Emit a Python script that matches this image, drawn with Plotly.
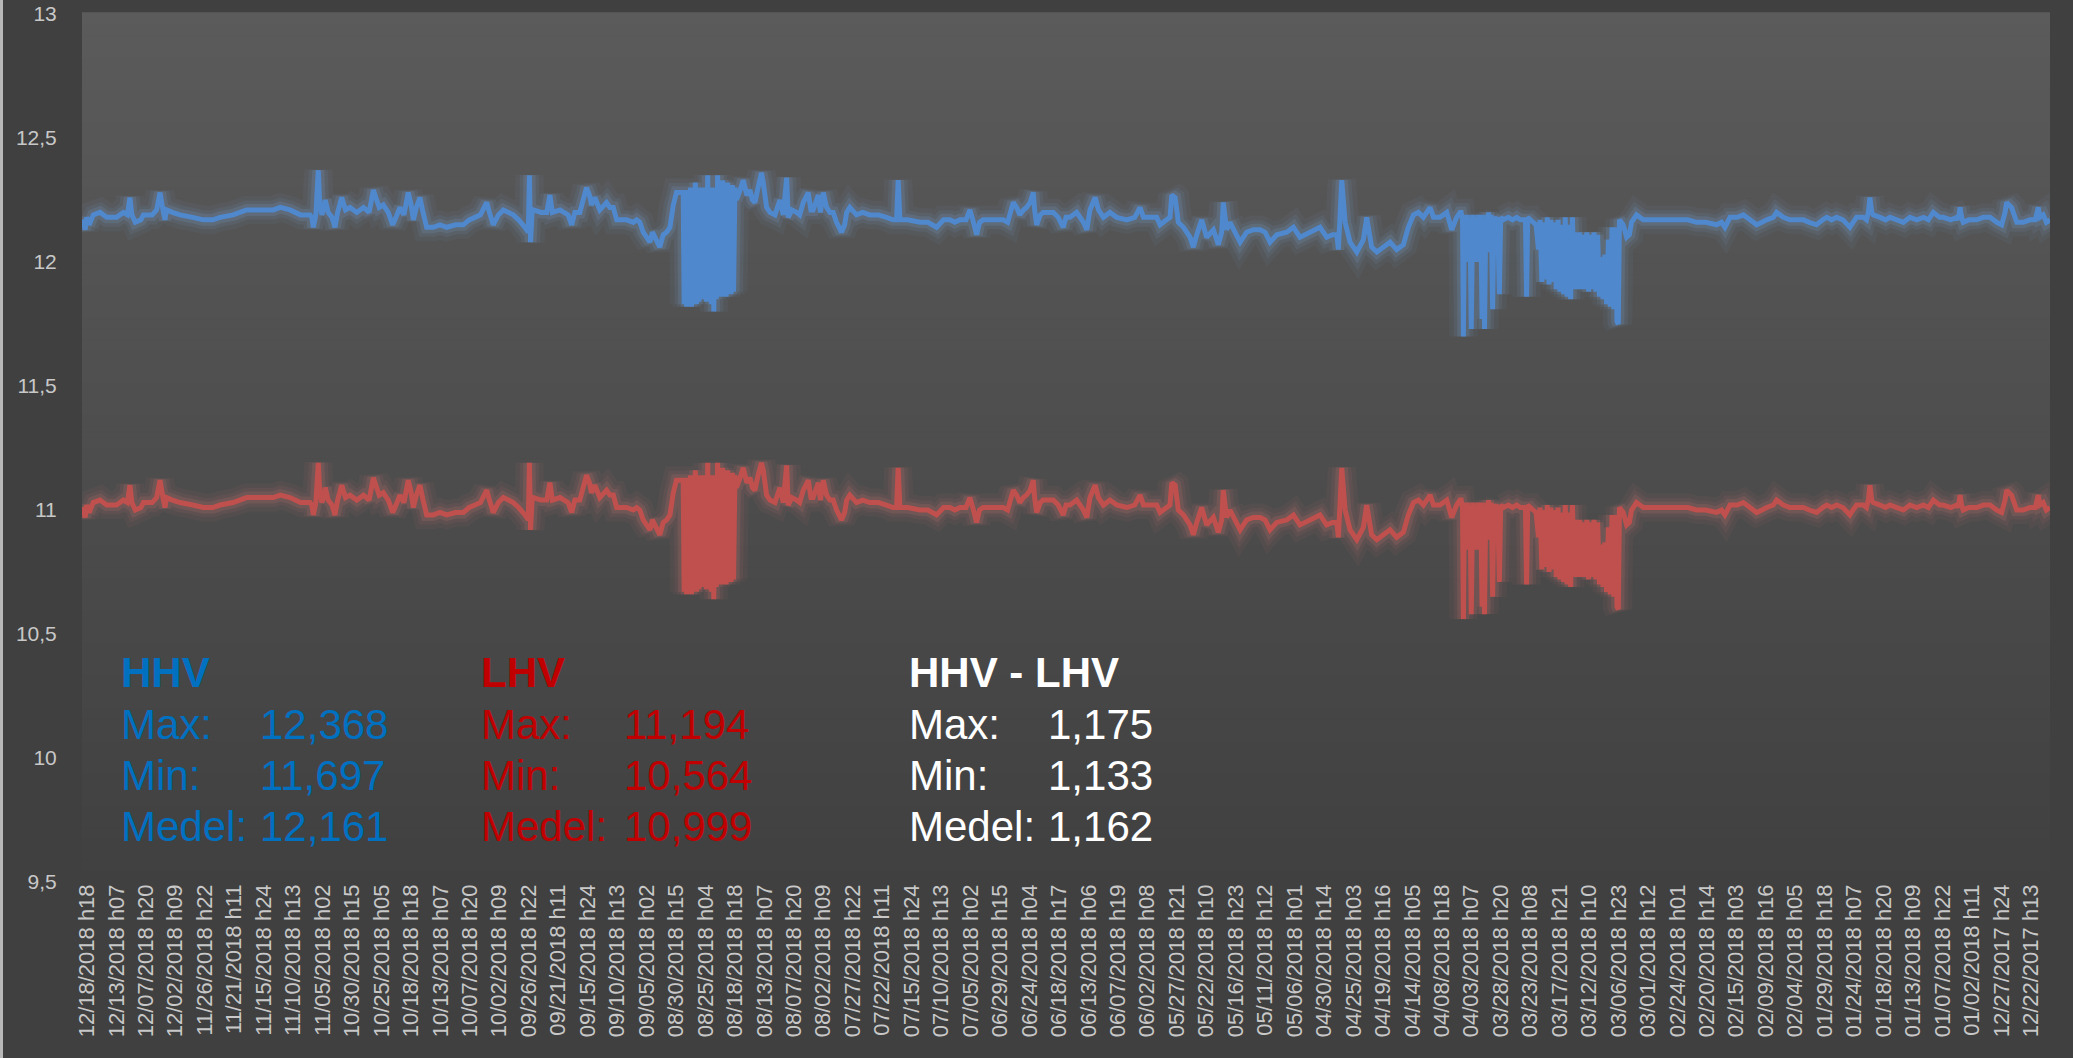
import plotly.graph_objects as go

# ---------------- DATA ----------------
# x = hours counted back from the first label (12/18/2018 h18); axis labels every 131 hours
tick_labels = [
    "12/18/2018 h18", "12/13/2018 h07", "12/07/2018 h20", "12/02/2018 h09", "11/26/2018 h22",
    "11/21/2018 h11", "11/15/2018 h24", "11/10/2018 h13", "11/05/2018 h02", "10/30/2018 h15",
    "10/25/2018 h05", "10/18/2018 h18", "10/13/2018 h07", "10/07/2018 h20", "10/02/2018 h09",
    "09/26/2018 h22", "09/21/2018 h11", "09/15/2018 h24", "09/10/2018 h13", "09/05/2018 h02",
    "08/30/2018 h15", "08/25/2018 h04", "08/18/2018 h18", "08/13/2018 h07", "08/07/2018 h20",
    "08/02/2018 h09", "07/27/2018 h22", "07/22/2018 h11", "07/15/2018 h24", "07/10/2018 h13",
    "07/05/2018 h02", "06/29/2018 h15", "06/24/2018 h04", "06/18/2018 h17", "06/13/2018 h06",
    "06/07/2018 h19", "06/02/2018 h08", "05/27/2018 h21", "05/22/2018 h10", "05/16/2018 h23",
    "05/11/2018 h12", "05/06/2018 h01", "04/30/2018 h14", "04/25/2018 h03", "04/19/2018 h16",
    "04/14/2018 h05", "04/08/2018 h18", "04/03/2018 h07", "03/28/2018 h20", "03/23/2018 h08",
    "03/17/2018 h21", "03/12/2018 h10", "03/06/2018 h23", "03/01/2018 h12", "02/24/2018 h01",
    "02/20/2018 h14", "02/15/2018 h03", "02/09/2018 h16", "02/04/2018 h05", "01/29/2018 h18",
    "01/24/2018 h07", "01/18/2018 h20", "01/13/2018 h09", "01/07/2018 h22", "01/02/2018 h11",
    "12/27/2017 h24", "12/22/2017 h13",
]
label_step_hours = 131
hour_range = [-22, 8731]

hours_a = [-22, -16, -8, -1, 10, 28, 58, 88, 132, 162, 180, 191, 200, 215, 240, 251, 290, 310, 325, 340,
           347, 354, 380, 414, 470, 518, 560, 592, 650, 710, 780, 829, 860, 903, 950, 992, 1000, 1007, 1018, 1029,
           1035, 1045, 1051, 1060, 1073, 1090, 1103, 1115, 1133, 1150, 1170, 1200, 1230, 1255, 1274, 1285, 1300, 1318, 1340, 1360,
           1370, 1392, 1410, 1429, 1440, 1452, 1465, 1481, 1495, 1511, 1540, 1570, 1600, 1640, 1674, 1700, 1726, 1750, 1778, 1790,
           1807, 1830, 1852, 1875, 1896, 1920, 1948, 1963, 1968, 1973, 1980, 1985, 2020, 2045, 2059, 2070, 2104, 2140, 2156, 2170]
hhv_a = [12.17, 12.16, 12.13, 12.18, 12.15, 12.19, 12.20, 12.18, 12.18, 12.20, 12.19, 12.26, 12.19, 12.16, 12.17, 12.19, 12.19, 12.21, 12.28, 12.20,
         12.17, 12.21, 12.20, 12.19, 12.18, 12.17, 12.17, 12.18, 12.19, 12.21, 12.21, 12.21, 12.22, 12.21, 12.19, 12.19, 12.18, 12.14, 12.19, 12.37,
         12.24, 12.19, 12.21, 12.25, 12.20, 12.18, 12.14, 12.20, 12.26, 12.21, 12.22, 12.20, 12.22, 12.20, 12.29, 12.26, 12.22, 12.23, 12.20, 12.15,
         12.17, 12.22, 12.19, 12.28, 12.24, 12.17, 12.22, 12.26, 12.20, 12.14, 12.14, 12.15, 12.14, 12.15, 12.15, 12.17, 12.18, 12.19, 12.24, 12.20,
         12.15, 12.19, 12.21, 12.20, 12.19, 12.17, 12.14, 12.12, 12.35, 12.08, 12.20, 12.21, 12.20, 12.20, 12.27, 12.20, 12.21, 12.19, 12.15, 12.20]
lhv_a = [11.01, 11.00, 10.97, 11.02, 10.99, 11.03, 11.04, 11.02, 11.02, 11.04, 11.03, 11.10, 11.03, 11.00, 11.01, 11.03, 11.03, 11.05, 11.12, 11.04,
         11.01, 11.05, 11.04, 11.03, 11.02, 11.01, 11.01, 11.02, 11.03, 11.05, 11.05, 11.05, 11.06, 11.05, 11.03, 11.03, 11.02, 10.98, 11.03, 11.19,
         11.08, 11.03, 11.05, 11.09, 11.04, 11.02, 10.98, 11.04, 11.10, 11.05, 11.06, 11.04, 11.06, 11.04, 11.13, 11.10, 11.06, 11.07, 11.04, 10.99,
         11.01, 11.06, 11.03, 11.12, 11.08, 11.01, 11.06, 11.10, 11.04, 10.98, 10.98, 10.99, 10.98, 10.99, 10.99, 11.01, 11.02, 11.03, 11.08, 11.04,
         10.99, 11.03, 11.05, 11.04, 11.03, 11.01, 10.98, 10.96, 11.19, 10.92, 11.04, 11.05, 11.04, 11.04, 11.11, 11.04, 11.05, 11.03, 10.99, 11.04]

hours_b = [2192, 2222, 2235, 2244, 2259, 2281, 2311, 2326, 2341, 2356, 2400, 2430, 2445, 2459, 2474, 2489, 2504, 2515, 2526, 2548,
           2563, 2578, 2593, 2608, 2622, 2645]
hhv_b = [12.20, 12.30, 12.27, 12.23, 12.26, 12.21, 12.24, 12.22, 12.22, 12.17, 12.17, 12.16, 12.17, 12.16, 12.12, 12.10, 12.08, 12.12, 12.10, 12.06,
         12.11, 12.12, 12.14, 12.23, 12.28, 12.28]
lhv_b = [11.04, 11.14, 11.11, 11.07, 11.10, 11.05, 11.08, 11.06, 11.06, 11.01, 11.01, 11.00, 11.01, 11.00, 10.96, 10.94, 10.92, 10.96, 10.94, 10.90,
         10.95, 10.96, 10.98, 11.07, 11.12, 11.12]

hours_c = [2652, 2656, 2662, 2667, 2673, 2678, 2684, 2689, 2695, 2700, 2706, 2711, 2717, 2722, 2728, 2733, 2739, 2744, 2750, 2755,
           2761, 2766, 2772, 2777, 2783, 2788, 2794, 2799, 2805, 2810, 2816, 2821, 2827, 2832, 2838, 2843, 2849, 2854, 2860, 2865,
           2871, 2876, 2882]
hhv_c = [12.28, 11.83, 12.26, 11.82, 12.29, 11.85, 12.30, 11.82, 12.25, 11.86, 12.32, 11.83, 12.30, 11.84, 12.27, 11.85, 12.30, 11.86, 12.29, 11.84,
         12.35, 11.87, 12.28, 11.83, 12.30, 11.80, 12.29, 11.85, 12.35, 11.86, 12.31, 11.86, 12.33, 11.87, 12.30, 11.86, 12.32, 11.88, 12.30, 11.87,
         12.31, 11.88, 12.30]
lhv_c = [11.12, 10.67, 11.10, 10.66, 11.13, 10.69, 11.14, 10.66, 11.09, 10.70, 11.16, 10.67, 11.14, 10.68, 11.11, 10.69, 11.14, 10.70, 11.13, 10.68,
         11.19, 10.71, 11.12, 10.67, 11.14, 10.64, 11.13, 10.69, 11.19, 10.70, 11.15, 10.70, 11.17, 10.71, 11.14, 10.70, 11.16, 10.72, 11.14, 10.71,
         11.15, 10.72, 11.14]

hours_d = [2889, 2905, 2919, 2935, 2949, 2960, 2971, 2985, 3000, 3008, 3023, 3038, 3060, 3082, 3097, 3112, 3119, 3135, 3156, 3170,
           3186, 3208, 3220, 3230, 3253, 3262, 3275, 3290, 3305, 3319, 3334, 3356, 3370, 3379, 3393, 3423, 3450, 3482, 3520, 3556,
           3585, 3601, 3608, 3616, 3650, 3705, 3740, 3779, 3810, 3838, 3860, 3883, 3910, 3927, 3940, 3957, 3970, 3986, 4031, 4075,
           4095, 4120, 4135, 4149, 4165, 4179, 4195, 4209, 4215, 4224, 4240, 4253, 4275, 4298, 4320, 4342, 4355]
hhv_d = [12.25, 12.29, 12.33, 12.27, 12.29, 12.25, 12.24, 12.30, 12.36, 12.32, 12.22, 12.20, 12.19, 12.25, 12.19, 12.34, 12.18, 12.21, 12.20, 12.19,
         12.24, 12.28, 12.21, 12.21, 12.27, 12.20, 12.28, 12.22, 12.20, 12.20, 12.16, 12.12, 12.15, 12.20, 12.22, 12.19, 12.20, 12.19, 12.19, 12.18,
         12.17, 12.17, 12.33, 12.17, 12.17, 12.16, 12.16, 12.14, 12.17, 12.17, 12.16, 12.17, 12.17, 12.21, 12.17, 12.11, 12.16, 12.17, 12.17, 12.17,
         12.16, 12.24, 12.22, 12.19, 12.21, 12.22, 12.24, 12.28, 12.21, 12.15, 12.19, 12.20, 12.20, 12.20, 12.18, 12.14, 12.18]
lhv_d = [11.09, 11.13, 11.17, 11.11, 11.13, 11.09, 11.08, 11.14, 11.19, 11.16, 11.06, 11.04, 11.03, 11.09, 11.03, 11.18, 11.02, 11.05, 11.04, 11.03,
         11.08, 11.12, 11.05, 11.05, 11.11, 11.04, 11.12, 11.06, 11.04, 11.04, 11.00, 10.96, 10.99, 11.04, 11.06, 11.03, 11.04, 11.03, 11.03, 11.02,
         11.01, 11.01, 11.17, 11.01, 11.01, 11.00, 11.00, 10.98, 11.01, 11.01, 11.00, 11.01, 11.01, 11.05, 11.01, 10.95, 11.00, 11.01, 11.01, 11.01,
         11.00, 11.08, 11.06, 11.03, 11.05, 11.06, 11.08, 11.12, 11.05, 10.99, 11.03, 11.04, 11.04, 11.04, 11.02, 10.98, 11.02]

hours_e = [4372, 4402, 4432, 4447, 4461, 4484, 4499, 4521, 4550, 4580, 4625, 4660, 4684, 4699, 4730, 4758, 4773, 4802, 4817, 4825,
           4840, 4854, 4877, 4906, 4921, 4936, 4958, 4980, 5010, 5032, 5047, 5054, 5069, 5084, 5106, 5129, 5158, 5188, 5218, 5240,
           5262, 5292, 5336, 5366, 5395, 5440, 5484, 5514, 5540, 5559, 5566, 5581, 5596, 5618, 5648, 5677, 5692, 5714, 5737, 5766,
           5796, 5825, 5855, 5877, 5900, 5922, 5944, 5974, 5989, 6018, 6048, 6070, 6092, 6107]
hhv_e = [12.18, 12.20, 12.16, 12.13, 12.21, 12.26, 12.21, 12.18, 12.20, 12.18, 12.17, 12.18, 12.22, 12.18, 12.18, 12.18, 12.15, 12.17, 12.18, 12.27,
         12.26, 12.16, 12.14, 12.10, 12.06, 12.11, 12.17, 12.10, 12.13, 12.07, 12.12, 12.24, 12.13, 12.16, 12.12, 12.08, 12.12, 12.13, 12.13, 12.12,
         12.08, 12.11, 12.12, 12.14, 12.10, 12.12, 12.14, 12.10, 12.11, 12.11, 12.05, 12.33, 12.16, 12.08, 12.04, 12.09, 12.18, 12.06, 12.04, 12.06,
         12.08, 12.05, 12.07, 12.14, 12.19, 12.20, 12.18, 12.22, 12.18, 12.18, 12.20, 12.13, 12.18, 12.20]
lhv_e = [11.02, 11.04, 11.00, 10.97, 11.05, 11.10, 11.05, 11.02, 11.04, 11.02, 11.01, 11.02, 11.06, 11.02, 11.02, 11.02, 10.99, 11.01, 11.02, 11.11,
         11.10, 11.00, 10.98, 10.94, 10.90, 10.95, 11.01, 10.94, 10.97, 10.91, 10.96, 11.08, 10.97, 11.00, 10.96, 10.92, 10.96, 10.97, 10.97, 10.96,
         10.92, 10.95, 10.96, 10.98, 10.94, 10.96, 10.98, 10.94, 10.95, 10.95, 10.89, 11.17, 11.00, 10.92, 10.88, 10.93, 11.02, 10.90, 10.88, 10.90,
         10.92, 10.89, 10.91, 10.98, 11.03, 11.04, 11.02, 11.06, 11.02, 11.02, 11.04, 10.97, 11.02, 11.04]

hours_f = [6112, 6118, 6122, 6127, 6133, 6139, 6145, 6151, 6157, 6163, 6169, 6175, 6181, 6187, 6193, 6199, 6205, 6211, 6216, 6222,
           6228, 6234, 6240, 6246, 6252, 6258, 6266, 6274, 6282, 6288, 6300, 6322, 6340, 6359, 6375, 6389, 6398, 6403, 6408, 6420,
           6433, 6445, 6456]
hhv_f = [12.20, 12.17, 11.70, 12.19, 12.02, 12.19, 12.00, 12.18, 11.73, 12.19, 12.01, 12.18, 12.00, 12.19, 12.06, 12.19, 11.77, 12.17, 11.73, 12.19,
         12.04, 12.20, 12.05, 12.19, 11.81, 12.18, 12.17, 12.18, 11.87, 12.18, 12.17, 12.18, 12.17, 12.18, 12.17, 12.17, 12.17, 11.86, 12.18, 12.17,
         12.16, 12.15, 12.05]
lhv_f = [11.04, 11.01, 10.56, 11.03, 10.86, 11.03, 10.84, 11.02, 10.58, 11.03, 10.85, 11.02, 10.84, 11.03, 10.90, 11.03, 10.61, 11.01, 10.58, 11.03,
         10.88, 11.04, 10.89, 11.03, 10.65, 11.02, 11.01, 11.02, 10.71, 11.02, 11.01, 11.02, 11.01, 11.02, 11.01, 11.01, 11.01, 10.70, 11.02, 11.01,
         11.00, 10.99, 10.89]

hours_g = [6463, 6471, 6479, 6487, 6495, 6503, 6511, 6519, 6527, 6535, 6543, 6551, 6559, 6567, 6575, 6583, 6591, 6599, 6607, 6615,
           6623, 6631, 6639, 6647, 6655, 6663, 6671, 6679, 6687, 6695, 6703, 6711, 6719, 6727, 6735, 6743, 6751, 6759, 6767, 6775,
           6783, 6791, 6799, 6805, 6811, 6816]
hhv_g = [12.17, 11.92, 12.16, 11.93, 12.18, 11.91, 12.17, 11.92, 12.16, 11.89, 12.17, 11.88, 12.15, 11.87, 12.18, 11.86, 12.15, 11.85, 12.18, 11.89,
         12.12, 11.89, 12.12, 11.89, 12.11, 11.89, 12.12, 11.88, 12.11, 11.89, 12.12, 11.88, 12.11, 11.86, 12.02, 11.85, 12.03, 11.83, 12.09, 11.82,
         12.14, 11.81, 12.14, 11.76, 11.75, 12.17]
lhv_g = [11.01, 10.76, 11.00, 10.77, 11.02, 10.75, 11.01, 10.76, 11.00, 10.73, 11.01, 10.72, 10.99, 10.71, 11.02, 10.70, 10.99, 10.69, 11.02, 10.73,
         10.96, 10.73, 10.96, 10.73, 10.95, 10.73, 10.96, 10.72, 10.95, 10.73, 10.96, 10.72, 10.95, 10.70, 10.86, 10.69, 10.87, 10.67, 10.93, 10.66,
         10.98, 10.65, 10.98, 10.61, 10.60, 11.01]

hours_h = [6833, 6848, 6860, 6870, 6892, 6922, 6952, 7000, 7070, 7120, 7159, 7200, 7248, 7270, 7285, 7308, 7340, 7367, 7397, 7426,
           7450, 7471, 7500, 7515, 7530, 7545, 7574, 7600, 7634, 7660, 7693, 7720, 7738, 7760, 7782, 7810, 7841, 7855, 7871, 7901,
           7915, 7923, 7930, 7938, 7945, 7975, 8000, 8019, 8050, 8079, 8108, 8138, 8168, 8190, 8212, 8240, 8256, 8290, 8316, 8323,
           8331, 8338, 8345, 8370, 8405, 8435, 8464, 8494, 8516, 8531, 8538, 8548, 8560, 8583, 8612, 8642, 8665, 8679, 8686, 8701,
           8715, 8731]
hhv_h = [12.15, 12.10, 12.11, 12.16, 12.19, 12.17, 12.17, 12.17, 12.17, 12.17, 12.16, 12.16, 12.15, 12.16, 12.14, 12.18, 12.18, 12.19, 12.17, 12.15,
         12.16, 12.17, 12.18, 12.20, 12.19, 12.18, 12.17, 12.17, 12.17, 12.16, 12.15, 12.17, 12.18, 12.17, 12.18, 12.17, 12.14, 12.16, 12.18, 12.18,
         12.17, 12.20, 12.26, 12.20, 12.19, 12.18, 12.17, 12.18, 12.17, 12.16, 12.18, 12.17, 12.18, 12.17, 12.20, 12.18, 12.18, 12.17, 12.18, 12.17,
         12.22, 12.18, 12.16, 12.17, 12.17, 12.18, 12.18, 12.16, 12.15, 12.20, 12.24, 12.23, 12.22, 12.16, 12.16, 12.17, 12.17, 12.22, 12.18, 12.19,
         12.16, 12.17]
lhv_h = [10.99, 10.94, 10.95, 11.00, 11.03, 11.01, 11.01, 11.01, 11.01, 11.01, 11.00, 11.00, 10.99, 11.00, 10.98, 11.02, 11.02, 11.03, 11.01, 10.99,
         11.00, 11.01, 11.02, 11.04, 11.03, 11.02, 11.01, 11.01, 11.01, 11.00, 10.99, 11.01, 11.02, 11.01, 11.02, 11.01, 10.98, 11.00, 11.02, 11.02,
         11.01, 11.04, 11.10, 11.04, 11.03, 11.02, 11.01, 11.02, 11.01, 11.00, 11.02, 11.01, 11.02, 11.01, 11.04, 11.02, 11.02, 11.01, 11.02, 11.01,
         11.06, 11.02, 11.00, 11.01, 11.01, 11.02, 11.02, 11.00, 10.99, 11.04, 11.08, 11.07, 11.06, 11.00, 11.00, 11.01, 11.01, 11.06, 11.02, 11.03,
         11.00, 11.01]

stats_hhv = ["12,368", "11,697", "12,161"]
stats_lhv = ["11,194", "10,564", "10,999"]
stats_diff = ["1,175", "1,133", "1,162"]
stat_names = ["Max:", "Min:", "Medel:"]

segments = [(hours_a, hhv_a, lhv_a), (hours_b, hhv_b, lhv_b), (hours_c, hhv_c, lhv_c), (hours_d, hhv_d, lhv_d),
            (hours_e, hhv_e, lhv_e), (hours_f, hhv_f, lhv_f), (hours_g, hhv_g, lhv_g), (hours_h, hhv_h, lhv_h)]
hours, hhv, lhv = [], [], []
for k, (hs, a, b) in enumerate(segments):
    assert len(hs) == len(a) == len(b), (k, len(hs), len(a), len(b))
    hours += hs
    hhv += a
    lhv += b

# ---------------- LAYOUT ----------------
W, H = 2073, 1058
ML, MR, MT, MB = 82, 23, 14, 176
PW, PH = W - ML - MR, H - MT - MB


def pxx(x):
    return (x - ML) / PW


def pyy(y):
    return (H - MB - y) / PH


fig = go.Figure()

BLUE_LINE = "#4F88CC"
RED_LINE = "#C0504D"


def glow_series(y, color, glow):
    for w, op in [(28, 0.05), (19, 0.08), (12, 0.14)]:
        fig.add_trace(go.Scatter(x=hours, y=y, mode="lines", line=dict(color=glow, width=w, simplify=False),
                                 opacity=op, hoverinfo="skip", showlegend=False))
    fig.add_trace(go.Scatter(x=hours, y=y, mode="lines", line=dict(color=color, width=5, simplify=False),
                             hoverinfo="skip", showlegend=False))


glow_series(lhv, RED_LINE, "#E07A76")
glow_series(hhv, BLUE_LINE, "#7FB0EA")

# plot-area vertical gradient
shapes = []
n = 80
top_c, bot_c = 91, 64
for i in range(n):
    t = (i + 0.5) / n
    c = round(bot_c + (top_c - bot_c) * t)
    shapes.append(dict(type="rect", xref="paper", yref="paper", x0=0, x1=1, y0=i / n, y1=(i + 1) / n + 0.002,
                       fillcolor=f"rgb({c},{c},{c})", line=dict(width=0), layer="below"))
# thin light frame strip on the far left
shapes.append(dict(type="rect", xref="paper", yref="paper", x0=pxx(0), x1=pxx(3), y0=pyy(H), y1=pyy(0),
                   fillcolor="#b8b8b8", line=dict(width=0), layer="below"))

annotations = []
FONT = "Liberation Sans, Arial, sans-serif"


def add_text(x, y, text, color, bold=False):
    annotations.append(dict(xref="paper", yref="paper", x=pxx(x), y=pyy(y), xanchor="left", yanchor="middle",
                            text=f"<b>{text}</b>" if bold else text, showarrow=False,
                            font=dict(family=FONT, size=42, color=color)))


row_y = [724, 775, 826]
title_y = 672
blocks = [(119, 258, "HHV", stats_hhv, "#0070C0"),
          (479, 622, "LHV", stats_lhv, "#C00000"),
          (907, 1046, "HHV - LHV", stats_diff, "#FFFFFF")]
for x0, xv, title, vals, col in blocks:
    add_text(x0, title_y, title, col, bold=True)
    for name, val, yy in zip(stat_names, vals, row_y):
        add_text(x0, yy, name, col)
        add_text(xv, yy, val, col)

fig.update_layout(
    width=W, height=H,
    margin=dict(l=ML, r=MR, t=MT, b=MB, pad=0, autoexpand=False),
    paper_bgcolor="#404040",
    plot_bgcolor="rgba(0,0,0,0)",
    separators=", ",
    shapes=shapes,
    annotations=annotations,
    showlegend=False,
    xaxis=dict(range=hour_range, tickmode="array",
               tickvals=[i * label_step_hours for i in range(len(tick_labels))], ticktext=tick_labels,
               tickangle=-90, ticks="", ticklabelstandoff=-3,
               showgrid=False, zeroline=False, showline=False, automargin=False,
               tickfont=dict(family=FONT, size=22, color="#c8c8c8")),
    yaxis=dict(range=[9.5, 13], tick0=9.5, dtick=0.5, ticks="outside", ticklen=20, tickcolor="rgba(0,0,0,0)",
               showgrid=False, zeroline=False, showline=False, automargin=False,
               tickfont=dict(family=FONT, size=21, color="#c8c8c8")),
)

fig.write_html("out.html", config={"displayModeBar": False, "responsive": False},
               post_script="document.body.style.margin='0';document.body.style.padding='0';"
                           "document.body.style.background='#404040';document.body.style.overflow='hidden';")
